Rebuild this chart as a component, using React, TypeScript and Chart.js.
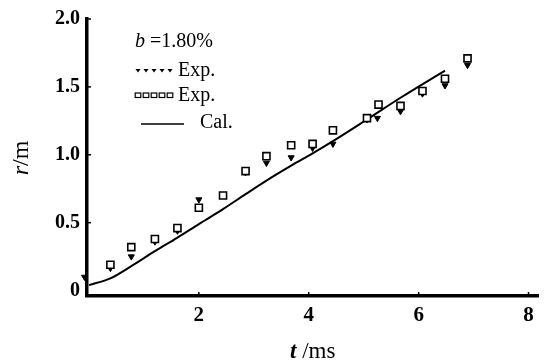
import React, { useEffect, useRef } from "react";
import { Chart, registerables } from "chart.js";

Chart.register(...registerables);

// Experimental series 1 (filled markers)
const expFilledT = [-0.08, 0.39, 0.77, 1.2, 1.61, 2.0, 2.44, 2.85, 3.23, 3.68, 4.07, 4.44, 5.06, 5.25, 5.67, 6.07, 6.48, 6.89];
const expFilledR = [0.1, 0.165, 0.25, 0.36, 0.44, 0.67, 0.71, 0.87, 0.94, 0.98, 1.05, 1.08, 1.26, 1.27, 1.32, 1.45, 1.51, 1.66];

// Experimental series 2 (open squares)
const expOpenT = [0.39, 0.77, 1.2, 1.61, 2.0, 2.44, 2.85, 3.23, 3.68, 4.07, 4.44, 5.06, 5.27, 5.67, 6.07, 6.48, 6.89];
const expOpenR = [0.19, 0.32, 0.38, 0.46, 0.61, 0.7, 0.88, 0.99, 1.07, 1.08, 1.18, 1.27, 1.37, 1.36, 1.47, 1.56, 1.71];

// Calculated curve
const calT = [0, 0.39, 0.77, 1.2, 1.61, 2.0, 2.44, 2.85, 3.23, 3.68, 4.07, 4.44, 5.06, 5.67, 6.48];
const calR = [0.04, 0.09, 0.18, 0.29, 0.39, 0.49, 0.6, 0.71, 0.81, 0.92, 1.01, 1.1, 1.26, 1.42, 1.62];

// Axis ticks
const xTicks = [0, 2, 4, 6, 8];
const yTicks = [0, 0.5, 1.0, 1.5, 2.0];
const yTickLabels = ["0", "0.5", "1.0", "1.5", "2.0"];

const SERIF = '"Liberation Serif", "Times New Roman", serif';

const toPts = (xs: number[], ys: number[]) => xs.map((x, i) => ({ x, y: ys[i] }));

const decorPlugin = {
  id: "decor",
  afterDraw(chart: any) {
    const ctx = chart.ctx;
    const xs = chart.scales.x;
    const ys = chart.scales.y;
    const area = chart.chartArea;
    ctx.save();
    ctx.strokeStyle = "#000";
    ctx.fillStyle = "#000";
    ctx.lineWidth = 1.5;
    xTicks.forEach((v) => {
      if (v === 0) return;
      const px = xs.getPixelForValue(v);
      ctx.beginPath();
      ctx.moveTo(px, area.bottom);
      ctx.lineTo(px, area.bottom - 4);
      ctx.stroke();
    });
    yTicks.forEach((v) => {
      if (v === 0) return;
      const py = ys.getPixelForValue(v);
      ctx.beginPath();
      ctx.moveTo(area.left, py);
      ctx.lineTo(area.left + 4, py);
      ctx.stroke();
    });

    const drawParts = (parts: [string, string][], x: number, y: number) => {
      let cx = x;
      parts.forEach(([txt, font]) => {
        ctx.font = font;
        ctx.fillText(txt, cx, y);
        cx += ctx.measureText(txt).width;
      });
      return cx;
    };
    const measureParts = (parts: [string, string][]) => {
      let w = 0;
      parts.forEach(([txt, font]) => {
        ctx.font = font;
        w += ctx.measureText(txt).width;
      });
      return w;
    };

    ctx.textBaseline = "middle";
    ctx.textAlign = "left";

    const xt: [string, string][] = [
      ["t", `italic bold 23px ${SERIF}`],
      [" /ms", `23px ${SERIF}`],
    ];
    const xw = measureParts(xt);
    drawParts(xt, (area.left + area.right) / 2 - xw / 2, 352);

    const yt: [string, string][] = [
      ["r", `italic 24px ${SERIF}`],
      ["/m", `24px ${SERIF}`],
    ];
    const yw = measureParts(yt);
    ctx.save();
    ctx.translate(22, 158);
    ctx.rotate(-Math.PI / 2);
    drawParts(yt, -yw / 2, 0);
    ctx.restore();

    const lf = `20px ${SERIF}`;
    drawParts(
      [
        ["b", `italic 20px ${SERIF}`],
        [" =1.80%", lf],
      ],
      135,
      42
    );
    for (let i = 0; i < 5; i++) {
      const cx = 138 + i * 8;
      ctx.beginPath();
      ctx.moveTo(cx - 2.5, 69);
      ctx.lineTo(cx + 2.5, 69);
      ctx.lineTo(cx, 72.5);
      ctx.closePath();
      ctx.fill();
    }
    drawParts([["Exp.", lf]], 178, 71);
    ctx.lineWidth = 1.2;
    for (let i = 0; i < 5; i++) {
      const cx = 138 + i * 8;
      ctx.strokeRect(cx - 2.8, 93, 5.6, 4.5);
    }
    drawParts([["Exp.", lf]], 178, 96);
    ctx.lineWidth = 1.3;
    ctx.beginPath();
    ctx.moveTo(141, 124);
    ctx.lineTo(184, 124);
    ctx.stroke();
    drawParts([["Cal.", lf]], 200, 123);

    ctx.restore();
  },
};

export default function App() {
  const ref = useRef<HTMLCanvasElement | null>(null);
  useEffect(() => {
    if (!ref.current) return;
    const chart = new Chart(ref.current, {
      type: "scatter",
      data: {
        datasets: [
          {
            label: "Cal.",
            type: "line",
            data: toPts(calT, calR),
            showLine: true,
            borderColor: "#000",
            borderWidth: 2,
            pointRadius: 0,
            cubicInterpolationMode: "monotone",
            fill: false,
            order: 3,
          } as any,
          {
            label: "Exp. (open)",
            data: toPts(expOpenT, expOpenR),
            pointStyle: "rect",
            pointRadius: 5,
            backgroundColor: "#fff",
            borderColor: "#000",
            borderWidth: 1.6,
            order: 1,
          },
          {
            label: "Exp. (filled)",
            data: toPts(expFilledT, expFilledR),
            pointStyle: "triangle",
            rotation: 180,
            pointRadius: 3.5,
            backgroundColor: "#000",
            borderColor: "#000",
            borderWidth: 1,
            clip: false,
            order: 2,
          } as any,
        ],
      },
      options: {
        animation: false,
        responsive: false,
        maintainAspectRatio: false,
        layout: { padding: { top: 19, right: 2, left: 0, bottom: 0 } },
        plugins: {
          legend: { display: false },
          tooltip: { enabled: false },
        },
        scales: {
          x: {
            type: "linear",
            min: -0.036,
            max: 8.18,
            afterBuildTicks: (s: any) => {
              s.ticks = xTicks.map((v) => ({ value: v }));
            },
            afterFit: (s: any) => {
              s.height = 67;
            },
            grid: { display: false, drawTicks: false },
            border: { display: true, color: "#000", width: 3.5 },
            ticks: {
              color: "#000",
              padding: 7,
              autoSkip: false,
              maxRotation: 0,
              font: { family: SERIF, size: 21, weight: "bold" },
              callback: (v: any) => (v === 0 ? "" : String(v)),
            },
          },
          y: {
            type: "linear",
            min: -0.04,
            max: 2.0,
            afterBuildTicks: (s: any) => {
              s.ticks = yTicks.map((v) => ({ value: v }));
            },
            afterFit: (s: any) => {
              s.width = 87;
            },
            grid: { display: false, drawTicks: false },
            border: { display: true, color: "#000", width: 3.5 },
            ticks: {
              color: "#000",
              padding: 7,
              autoSkip: false,
              font: { family: SERIF, size: 20, weight: "bold" },
              callback: (v: any) => {
                const i = yTicks.indexOf(Number(v));
                return i >= 0 ? yTickLabels[i] : "";
              },
            },
          },
        },
      } as any,
      plugins: [decorPlugin],
    });
    return () => chart.destroy();
  }, []);
  return (
    <div style={{ position: "fixed", left: 0, top: 0, width: 545, height: 363, background: "#fff" }}>
      <canvas ref={ref} width={545} height={363} style={{ display: "block" }} />
    </div>
  );
}
